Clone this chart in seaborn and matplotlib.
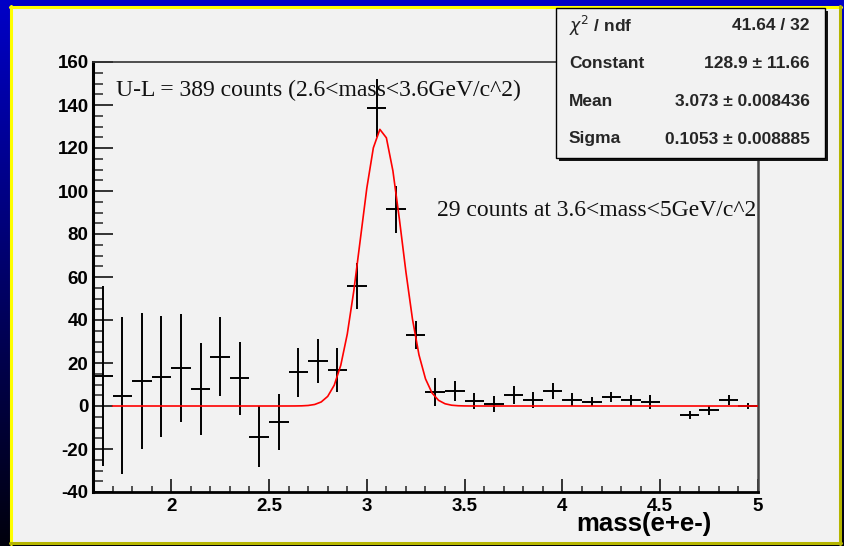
import numpy as np
import matplotlib
matplotlib.use("Agg")
import matplotlib.pyplot as plt
from matplotlib.patches import Rectangle
from matplotlib.lines import Line2D
from matplotlib.ticker import MultipleLocator, FormatStrFormatter
import seaborn as sns

# ---- histogram (unlike-sign minus like-sign e+e- pairs), 0.1 GeV bins ----
bin_centers = [1.65, 1.75, 1.85, 1.95, 2.05, 2.15, 2.25, 2.35, 2.45, 2.55,
               2.65, 2.75, 2.85, 2.95, 3.05, 3.15, 3.25, 3.35, 3.45, 3.55,
               3.65, 3.75, 3.85, 3.95, 4.05, 4.15, 4.25, 4.35, 4.45,
               4.65, 4.75, 4.85, 4.95]
counts = [14.0, 4.8, 11.6, 13.7, 17.6, 8.0, 22.9, 12.9, -14.2, -7.4,
          15.7, 20.9, 16.8, 55.8, 138.7, 91.4, 33.1, 6.3, 6.9, 2.2,
          0.8, 5.0, 2.7, 6.8, 3.0, 2.0, 4.1, 2.6, 2.0,
          -4.1, -2.0, 2.7, 0.0]
count_errors = [42.0, 36.5, 31.7, 28.2, 25.0, 21.5, 18.3, 17.0, 14.2, 13.0,
                11.4, 10.3, 10.4, 10.5, 13.6, 11.0, 6.6, 6.5, 4.7, 3.7,
                3.7, 4.3, 3.6, 3.7, 3.0, 2.1, 2.2, 2.4, 3.3,
                1.8, 2.0, 2.3, 1.6]
bin_half_width = 0.05

# ---- gaussian fit result ----
fit_constant, fit_constant_err = 128.9, 11.66
fit_mean, fit_mean_err = 3.073, 0.008436
fit_sigma, fit_sigma_err = 0.1053, 0.008885
fit_chi2, fit_ndf = 41.64, 32
fit_range = (1.7, 5.0)
fit_npx = 100

W, H = 844, 546
sns.set_theme(style="ticks")
plt.rcParams["font.family"] = ["Liberation Sans", "DejaVu Sans"]
plt.rcParams["mathtext.fontset"] = "dejavusans"

fig = plt.figure(figsize=(W / 100, H / 100), dpi=100)


def fx(x):
    return x / W


def fy(y):
    return 1 - y / H


# dark blue gradient backdrop
bg = fig.add_axes([0, 0, 1, 1], zorder=-10)
grad = np.linspace(0, 1, 256)[:, None]
top = np.array([0.0, 0.0, 0.78])
bottom = np.array([0.0, 0.0, 0.05])
img = top[None, None, :] * (1 - grad[..., None]) + bottom[None, None, :] * grad[..., None]
bg.imshow(img, aspect="auto", extent=[0, 1, 0, 1], origin="upper")
bg.set_xlim(0, 1)
bg.set_ylim(0, 1)
bg.axis("off")

# light canvas with bevelled yellow frame
pl, pr, pt, pb = 10, 841, 6, 544
bg.add_patch(Rectangle((fx(pl), fy(pb)), fx(pr - pl), (pb - pt) / H,
                       facecolor="#f2f2f2", edgecolor="none"))
bg.add_line(Line2D([fx(pl + 1), fx(pl + 1)], [fy(pb), fy(pt)], color="#ffff00", lw=2.2))
bg.add_line(Line2D([fx(pl), fx(pr)], [fy(pt + 1), fy(pt + 1)], color="#ffff00", lw=2.2))
bg.add_line(Line2D([fx(pr - 1), fx(pr - 1)], [fy(pb), fy(pt)], color="#b5b500", lw=2.2))
bg.add_line(Line2D([fx(pl), fx(pr)], [fy(pb - 1), fy(pb - 1)], color="#b5b500", lw=2.2))

# main frame
ax_l, ax_r, ax_t, ax_b = 93, 758, 62, 492
ax = fig.add_axes([fx(ax_l), fy(ax_b), fx(ax_r - ax_l), (ax_b - ax_t) / H], zorder=1)
ax.set_facecolor("#f2f2f2")

ax.errorbar(bin_centers, counts, xerr=bin_half_width, yerr=count_errors,
            fmt="none", ecolor="black", elinewidth=1.4, capsize=0, zorder=2)

fit_x = np.linspace(fit_range[0], fit_range[1], fit_npx)
fit_y = fit_constant * np.exp(-0.5 * ((fit_x - fit_mean) / fit_sigma) ** 2)
sns.lineplot(x=fit_x, y=fit_y, ax=ax, color="red", lw=1.2, estimator=None,
             sort=False, zorder=3)

ax.set_xlim(1.6, 5.0)
ax.set_ylim(-40, 160)
ax.xaxis.set_major_locator(MultipleLocator(0.5))
ax.xaxis.set_minor_locator(MultipleLocator(0.1))
ax.yaxis.set_major_locator(MultipleLocator(20))
ax.yaxis.set_minor_locator(MultipleLocator(5))
ax.xaxis.set_major_formatter(FormatStrFormatter("%g"))
ax.yaxis.set_major_formatter(FormatStrFormatter("%d"))
ax.tick_params(axis="x", which="major", direction="in", length=9.5, width=1.1,
               pad=4.5, labelsize=13.5, colors="black")
ax.tick_params(axis="x", which="minor", direction="in", length=4.6, width=1.1)
ax.tick_params(axis="y", which="major", direction="in", length=14.5, width=1.1,
               pad=3.2, labelsize=13.5, colors="black")
ax.tick_params(axis="y", which="minor", direction="in", length=7.2, width=1.1)
for lab in ax.get_xticklabels() + ax.get_yticklabels():
    lab.set_fontweight("bold")

ax.spines["left"].set_linewidth(2.2)
ax.spines["bottom"].set_linewidth(2.0)
ax.spines["left"].set_color("black")
ax.spines["bottom"].set_color("black")
ax.spines["top"].set_visible(True)
ax.spines["right"].set_visible(True)
ax.spines["top"].set_linewidth(1.2)
ax.spines["top"].set_color("#333333")
ax.spines["right"].set_linewidth(1.8)
ax.spines["right"].set_color("#444444")
ax.set_xlabel("")
ax.set_ylabel("")

# annotations
fig.text(fx(116), fy(96), "U-L = 389 counts (2.6<mass<3.6GeV/c^2)",
         family=["Liberation Serif", "DejaVu Serif"], fontsize=17,
         ha="left", va="baseline", color="#111111", zorder=4)
fig.text(fx(437), fy(216), "29 counts at 3.6<mass<5GeV/c^2",
         family=["Liberation Serif", "DejaVu Serif"], fontsize=17,
         ha="left", va="baseline", color="#111111", zorder=4)
fig.text(fx(712), fy(531), "mass(e+e-)", fontsize=18.5, fontweight="bold",
         ha="right", va="baseline", color="black", zorder=4)

# fit statistics box with drop shadow
bx_l, bx_r, bx_t, bx_b = 556, 825, 8, 158
shadow = Rectangle((fx(bx_l + 3), fy(bx_b + 3)), fx(bx_r - bx_l), (bx_b - bx_t) / H,
                   facecolor="#151515", edgecolor="none", transform=fig.transFigure,
                   zorder=5)
box = Rectangle((fx(bx_l), fy(bx_b)), fx(bx_r - bx_l), (bx_b - bx_t) / H,
                facecolor="#f2f2f2", edgecolor="black", lw=1.0,
                transform=fig.transFigure, zorder=6)
fig.add_artist(shadow)
fig.add_artist(box)

stat_names = [r"$\chi^{2}$ / ndf", "Constant", "Mean", "Sigma"]
stat_values = [f"{fit_chi2:.2f} / {fit_ndf}",
               f"{fit_constant:.1f} \u00b1 {fit_constant_err:.2f}",
               f"{fit_mean:.3f} \u00b1 {fit_mean_err:.6f}",
               f"{fit_sigma:.4f} \u00b1 {fit_sigma_err:.6f}"]
row_y = [26, 63, 101, 139]
for name, val, y in zip(stat_names, stat_values, row_y):
    fig.text(fx(569), fy(y), name, fontsize=12.5, fontweight="bold",
             ha="left", va="center", zorder=7)
    fig.text(fx(810), fy(y), val, fontsize=12.5, fontweight="bold",
             ha="right", va="center", zorder=7)

fig.savefig("out.png", dpi=100)
